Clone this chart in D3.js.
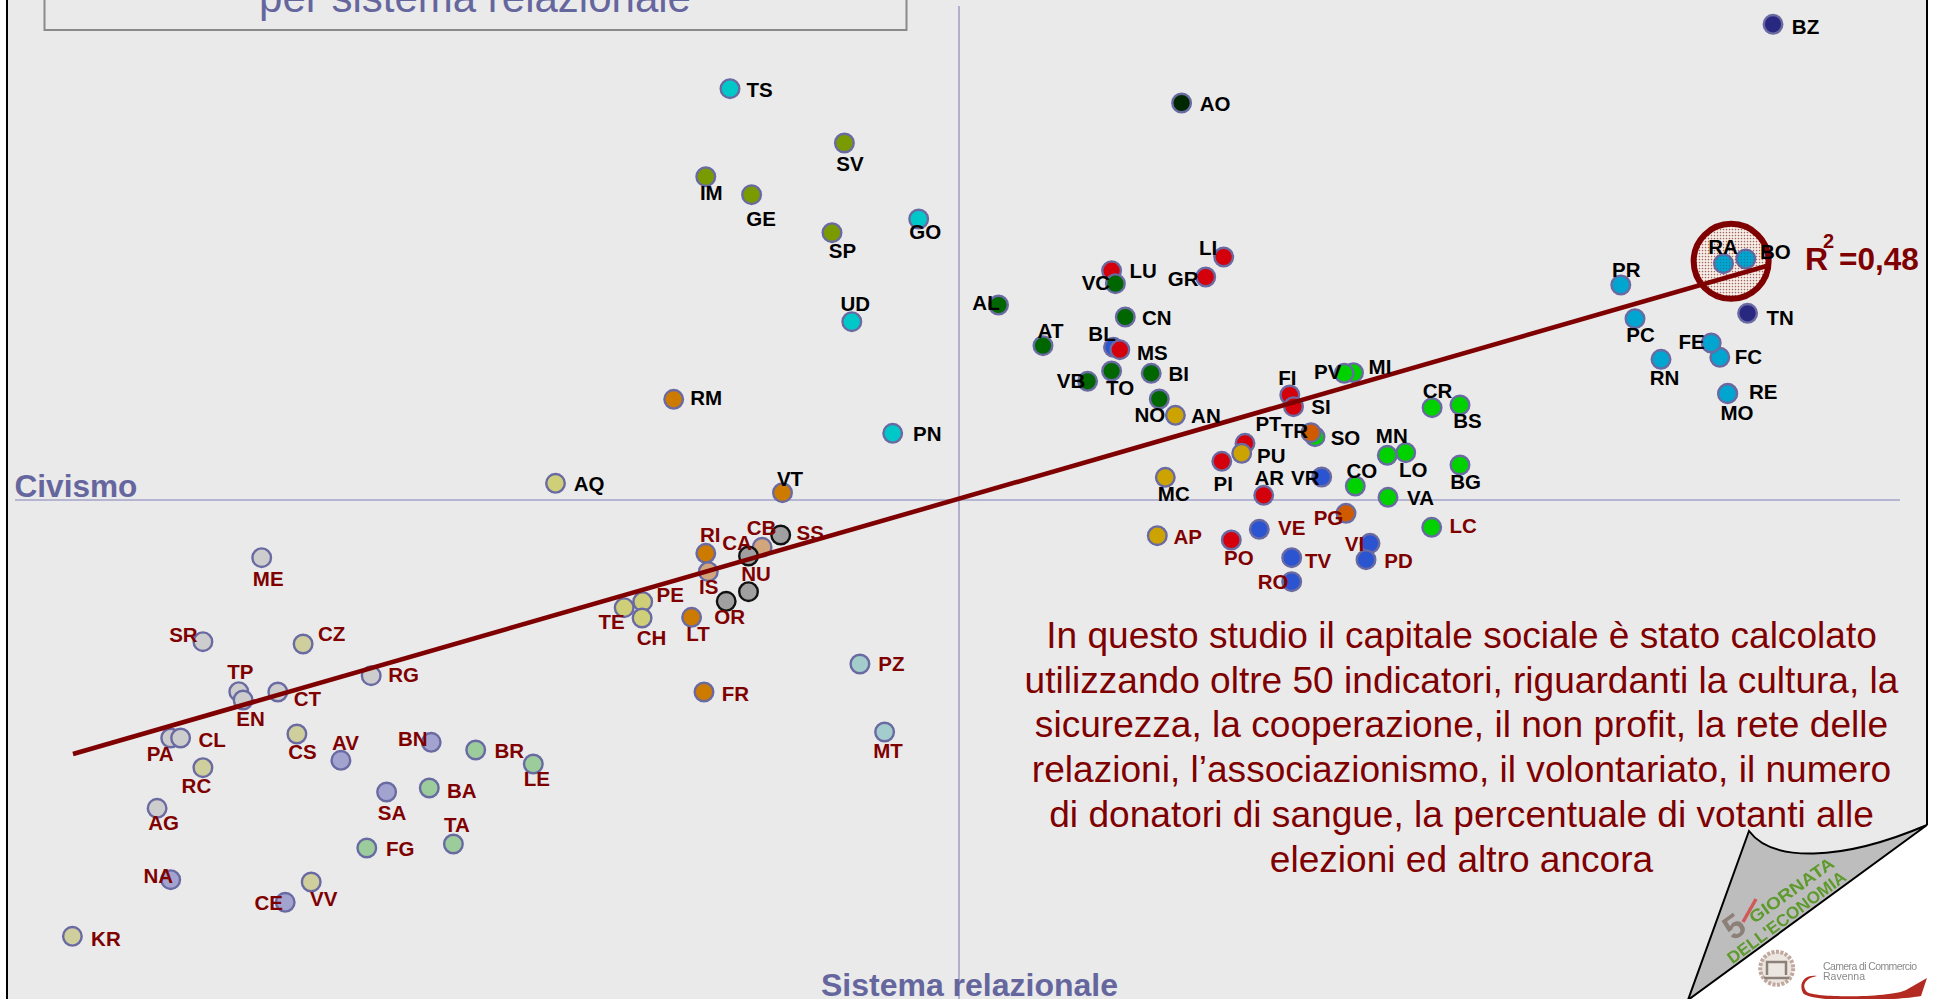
<!DOCTYPE html>
<html><head><meta charset="utf-8">
<script src="https://cdnjs.cloudflare.com/ajax/libs/d3/7.8.5/d3.min.js"></script>
<style>html,body{margin:0;padding:0;background:#fff;overflow:hidden}svg{display:block}text{font-family:"Liberation Sans",Arial,sans-serif}</style>
</head><body><svg id="c" width="1939" height="999"></svg>
<script>
// ---------- data ----------
const regionNames = ["Trentino-AA","Valle d'Aosta","Piemonte","Liguria","Lombardia","Veneto","Friuli-VG","Emilia-R","Toscana","Marche","Umbria","Lazio","Abruzzo","Molise","Sardegna","Campania","Puglia","Basilicata","Calabria","Sicilia"];
const regionColors = ["#282880","#002800","#006600","#7a9b00","#00d200","#2b55d0","#00c8c8","#00a5d0","#d4000c","#cca300","#d05a00","#cc7a00","#cfcf7a","#d2a67c","#a0a0a0","#a3a3cf","#9ccb9c","#a3cccc","#cfcf9e","#cdcdcd"];
const provinces = ["TS","GO","UD","PN","SV","IM","GE","SP","RM","VT","RI","LT","FR","AQ","TE","PE","CH","IS","CB","CA","SS","NU","OR","ME","SR","CZ","TP","EN","CT","RG","PA","CL","CS","AV","BN","BR","LE","RC","SA","BA","AG","TA","FG","NA","VV","CE","KR","PZ","MT","BZ","TN","AO","LI","GR","LU","VC","AL","CN","AT","BL","MS","TO","VB","BI","NO","AN","FI","SI","MI","PV","CR","BS","PT","PU","SO","TR","MN","LO","PI","BG","MC","AR","VR","CO","VA","AP","PO","VE","TV","RO","PG","VI","PD","LC","PR","RA","BO","PC","FC","FE","RN","RE","MO"];
const regionOf = [6,6,6,6,3,3,3,3,11,11,11,11,11,12,12,12,12,13,13,14,14,14,14,19,19,18,19,19,19,19,19,19,18,15,15,16,16,18,15,16,19,16,16,15,18,15,18,17,17,0,0,1,8,8,8,2,2,2,2,5,8,2,2,2,2,9,8,8,4,4,4,4,8,9,4,10,4,4,8,4,9,8,5,4,4,9,8,5,5,5,10,5,5,4,7,7,7,7,7,7,7,7,7];
const sistemaRelazionale = [-228,-39.3,-106.2,-65.3,-113.6,-252.2,-206.4,-126,-284.3,-175.5,-252.2,-266.4,-254,-402.5,-333.8,-315.3,-315.9,-249.7,-195.9,-209.5,-177.3,-209.5,-231.8,-696.3,-755.1,-654.9,-719.2,-714.9,-680.2,-586.8,-787.3,-777.4,-661.1,-617.1,-526.8,-482.3,-424.7,-755.1,-571.4,-528.7,-800.9,-504.6,-591.2,-787.3,-646.8,-672.8,-885.6,-98.1,-73.4,815,789.6,223.6,265.7,247.7,153.6,157.4,40.5,167.3,85,155.5,161.8,153.6,129.6,193.2,201.3,217.4,331.8,335.5,395.5,386.2,474.1,502,287,283.7,357,353,429.3,447.7,263.8,502,207.3,305.7,363.7,397.3,430,199.3,273.3,301.3,333.7,333.7,388,412,408,473.7,662.8,765.5,787.8,677,761.8,753.2,703,769.8,769.5];
const civismo = [411.3,281,178.3,66.7,357,323.3,305.3,267.3,100.7,7.3,-53.3,-117.3,-192,16.7,-107.7,-101.7,-118,-71.7,-47.3,-56,-35,-91.7,-101.3,-57.7,-141.7,-144,-191.7,-200,-192,-175.7,-238,-238,-234,-260.3,-242.3,-250,-264,-267.7,-292,-288,-308.3,-344,-348,-379.7,-382,-402.3,-436.3,-164,-232,475.7,186.7,397,243,223,229.3,216.3,195,183,154.3,152.7,150.3,129,118.7,126.7,101,84.7,105,93.3,127.3,126.7,92.3,95,56.7,46.7,63.3,67.3,44.7,47.3,38.7,35,22.7,4.7,23,14,2.7,-35.7,-40,-29.3,-57.7,-81.7,-13.3,-43.3,-59.7,-27.3,215,236.3,241,181.3,142.7,157,140.7,106.7,106.3];
const trendRelazionale = [-885,812];
const trendCivismo = [-254,235];
const highlighted = ["RA","BO"];
const titleText = "per sistema relazionale";
const xAxisLabel = "Sistema relazionale";
const yAxisLabel = "Civismo";
const noteLines = ["In questo studio il capitale sociale è stato calcolato","utilizzando oltre 50 indicatori, riguardanti la cultura, la","sicurezza, la cooperazione, il non profit, la rete delle","relazioni, l’associazionismo, il volontariato, il numero","di donatori di sangue, la percentuale di votanti alle","elezioni ed altro ancora"];

// ---------- layout ----------
const W=1939,H=999, RED="#7f0000", BLUE="#66669e";
const labelOffset = {TS:[30,1],SV:[6,21],IM:[6,16],GE:[10,24],SP:[11,18],GO:[7,13],UD:[4,-18],RM:[33,-1],PN:[35,1],AQ:[34,1],VT:[8,-14],
BZ:[33,3],AO:[34,1],LI:[-15,-9],GR:[-22,2],LU:[32,0],VC:[-19,-1],AL:[-12,-2],CN:[32,1],AT:[8,-15],BL:[-11,-13],MS:[33,3],TO:[9,17],VB:[-16,0],BI:[28,1],NO:[-9,16],AN:[31,1],FI:[-2,-17],SI:[28,0],PV:[-16,-1],MI:[27,-6],CR:[6,-17],BS:[8,16],PT:[24,-19],PU:[30,3],TR:[-16,-2],SO:[31,1],MN:[5,-19],LO:[8,17],PI:[2,23],BG:[6,17],MC:[9,17],AR:[6,-17],VR:[-16,1],CO:[7,-15],VA:[33,1],
PR:[6,-15],RA:[0,-17],BO:[30,-7],TN:[33,5],PC:[6,16],FE:[-19,-1],FC:[29,0],RN:[4,19],RE:[36,-1],MO:[10,19],
ME:[7,21],SR:[-19,-7],CZ:[29,-10],TP:[2,-20],EN:[8,19],CT:[30,7],RG:[33,-1],PA:[-10,16],CL:[32,2],CS:[6,18],AV:[5,-17],BN:[-18,-3],BR:[34,1],LE:[4,15],RC:[-6,18],SA:[6,21],BA:[33,3],AG:[7,15],TA:[4,-19],FG:[34,1],NA:[-12,-4],VV:[13,17],CE:[-16,1],KR:[34,3],PZ:[32,0],FR:[32,2],MT:[4,19],TE:[-12,14],PE:[28,-7],CH:[10,20],LT:[7,17],OR:[4,16],NU:[8,-18],IS:[1,15],RI:[5,-18],CA:[-11,-13],CB:[0,-19],SS:[30,-2],
AP:[31,1],PO:[8,18],VE:[33,-1],TV:[27,3],RO:[-18,0],PG:[-17,5],VI:[-15,1],PD:[33,1],LC:[32,-1]};

const x = d3.scaleLinear().domain([-958,981]).range([0,W]);
const y = d3.scaleLinear().domain([500,-499]).range([0,H]);
const svg = d3.select("#c");

const defs = svg.append("defs");
const pat = defs.append("pattern").attr("id","dots").attr("width",3).attr("height",3).attr("patternUnits","userSpaceOnUse");
pat.append("rect").attr("width",3).attr("height",3).attr("fill","#f6efe9");
pat.append("circle").attr("cx",1.5).attr("cy",1.5).attr("r",0.85).attr("fill","#e08a78");
const pat2 = defs.append("pattern").attr("id","dotsOver").attr("width",3).attr("height",3).attr("patternUnits","userSpaceOnUse");
pat2.append("circle").attr("cx",1.5).attr("cy",1.5).attr("r",0.7).attr("fill","rgba(60,70,90,0.45)");
defs.append("filter").attr("id","soft").append("feGaussianBlur").attr("stdDeviation",0.45);

// page
svg.append("rect").attr("width",W).attr("height",H).attr("fill","#fff");
svg.append("rect").attr("x",7).attr("y",-3).attr("width",1920).attr("height",H+6).attr("fill","#eaeaea").attr("stroke","#000").attr("stroke-width",2);

// title box
svg.append("rect").attr("x",44.5).attr("y",-20).attr("width",862).attr("height",50).attr("fill","none").attr("stroke","#8a8a8a").attr("stroke-width",2);
svg.append("text").attr("x",475).attr("y",12).attr("text-anchor","middle").attr("font-size",42).attr("fill",BLUE).text(titleText);

// axes
svg.append("line").attr("x1",x(-943)).attr("x2",x(942)).attr("y1",y(0)).attr("y2",y(0)).attr("stroke","#a3a3c8").attr("stroke-width",1.6);
svg.append("line").attr("x1",x(1)).attr("x2",x(1)).attr("y1",6).attr("y2",H).attr("stroke","#a3a3c8").attr("stroke-width",1.6);
svg.append("text").attr("x",14.5).attr("y",496.5).attr("font-size",31.6).attr("font-weight","bold").attr("fill",BLUE).text(yAxisLabel);
svg.append("text").attr("x",969.5).attr("y",996).attr("text-anchor","middle").attr("font-size",32).attr("font-weight","bold").attr("fill",BLUE).text(xAxisLabel);

// points
const rows = provinces.map((p,i)=>({p,x:sistemaRelazionale[i],y:civismo[i],r:regionOf[i]}));
const hi = rows.filter(d=>highlighted.includes(d.p));
const ringCx = x(d3.mean(hi,d=>d.x))-3.5, ringCy = y(d3.mean(hi,d=>d.y));
svg.append("circle").attr("cx",ringCx).attr("cy",ringCy).attr("r",37.5).attr("fill","url(#dots)");
svg.append("g").selectAll("circle").data(rows).join("circle")
  .attr("cx",d=>x(d.x)).attr("cy",d=>y(d.y)).attr("r",9.3)
  .attr("fill",d=>regionColors[d.r])
  .attr("stroke",d=>regionNames[d.r]==="Sardegna"?"#111":"#6a6aa3").attr("stroke-width",2.4);

// highlight ring
svg.append("circle").attr("cx",ringCx).attr("cy",ringCy).attr("r",37.5).attr("fill","url(#dotsOver)").attr("stroke",RED).attr("stroke-width",6);

// trend
svg.append("line").attr("x1",x(trendRelazionale[0])).attr("y1",y(trendCivismo[0])).attr("x2",x(trendRelazionale[1])).attr("y2",y(trendCivismo[1])).attr("stroke",RED).attr("stroke-width",4.6);

// labels
svg.append("g").selectAll("text").data(rows).join("text")
  .attr("x",d=>x(d.x)+labelOffset[d.p][0]-0.5).attr("y",d=>y(d.y)+labelOffset[d.p][1]+7)
  .attr("text-anchor","middle").attr("font-size",20.5).attr("font-weight","bold")
  .attr("fill",d=>d.y<0?RED:"#000").text(d=>d.p);

// R2
const r2 = svg.append("g").attr("fill",RED).attr("font-weight","bold");
r2.append("text").attr("x",1805).attr("y",270).attr("font-size",32).text("R");
r2.append("text").attr("x",1823).attr("y",248).attr("font-size",20).text("2");
r2.append("text").attr("x",1839).attr("y",270).attr("font-size",31.5).text("=0,48");

// note
svg.append("g").selectAll("text").data(noteLines).join("text")
  .attr("x",1461.5).attr("y",(d,i)=>647.8+i*44.8).attr("text-anchor","middle").attr("font-size",37.1).attr("fill",RED).text(d=>d);

// turned page corner
svg.append("path").attr("d","M1927,825 L1689,999 L1939,999 L1939,825 Z").attr("fill","#fff");
svg.append("rect").attr("x",1928).attr("y",815).attr("width",11).attr("height",184).attr("fill","#fff");
svg.append("path").attr("d","M1749,831 C1772,862 1840,862 1927,825 L1688,1000 Z").attr("fill","#bdbdbd").attr("stroke","#000").attr("stroke-width",2);
const logo = svg.append("g").attr("filter","url(#soft)");
logo.append("text").attr("transform","translate(1795,895) rotate(-35.5)").attr("text-anchor","middle").attr("font-size",17).attr("font-weight","bold").attr("fill","#5e9a2e").attr("textLength",100).attr("lengthAdjust","spacingAndGlyphs").text("GIORNATA");
logo.append("text").attr("transform","translate(1790,922) rotate(-36.5)").attr("text-anchor","middle").attr("font-size",17).attr("font-weight","bold").attr("fill","#5e9a2e").attr("textLength",143).attr("lengthAdjust","spacingAndGlyphs").text("DELL'ECONOMIA");
logo.append("text").attr("transform","translate(1741,936) rotate(-36)").attr("text-anchor","middle").attr("font-size",34).attr("font-weight","bold").attr("fill","#8c8078").text("5");
logo.append("line").attr("x1",1743).attr("y1",922).attr("x2",1756).attr("y2",899).attr("stroke","#d05a5a").attr("stroke-width",3.5);
logo.append("circle").attr("cx",1776.7).attr("cy",968.3).attr("r",16.5).attr("fill","#ece6e0").attr("stroke","#c0a89e").attr("stroke-width",4).attr("stroke-dasharray","3 1.5");
logo.append("path").attr("d","M1767,975 L1767,962 L1786,962 L1786,975 M1764,978 L1789,978").attr("fill","none").attr("stroke","#8c8078").attr("stroke-width",2.5);
logo.append("text").attr("x",1823).attr("y",970).attr("font-size",10.5).attr("fill","#8a8a8a").attr("textLength",94).text("Camera di Commercio");
logo.append("text").attr("x",1823).attr("y",980).attr("font-size",10.5).attr("fill","#8a8a8a").text("Ravenna");
logo.append("path").attr("d","M1817,976 C1805,978 1801,986 1807,992 C1815,998 1890,998 1906,990 L1927,978 L1921,996 C1895,1001 1810,1003 1803,993 C1798,983 1805,974 1817,976 Z").attr("fill","#b22a20");
</script></body></html>
